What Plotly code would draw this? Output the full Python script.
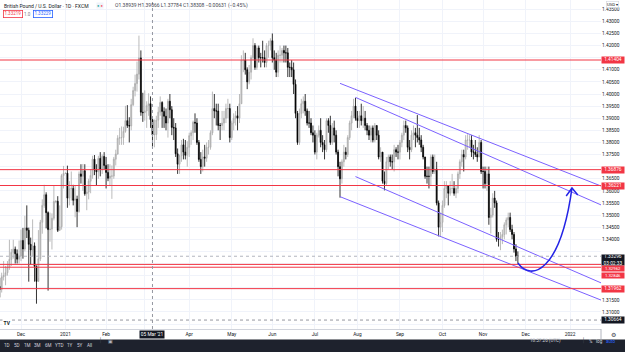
import pandas as pd
import plotly.graph_objects as go

# ---------------- data (GBP/USD daily, FXCM) ----------------
bar_dates = pd.bdate_range("2020-11-16", "2021-11-25")
axis_dates = pd.bdate_range("2020-11-16", "2022-02-28")

opens = [
    # Nov 2020
    1.3205, 1.3193, 1.3245, 1.3250, 1.3262, 1.3285, 1.3317, 1.3346, 1.3359, 1.3340, 1.3318,
    # Dec 2020
    1.3331, 1.3395, 1.3360, 1.3447, 1.3437, 1.3379, 1.3356, 1.3373, 1.3288, 1.3226, 1.3320, 1.3470,
    1.3540, 1.3584, 1.3510, 1.3440, 1.3442, 1.3487, 1.3556, 1.3557, 1.3437, 1.3452, 1.3663,
    # Jan 2021
    1.3672, 1.3673, 1.3570, 1.3608, 1.3610, 1.3561, 1.3566, 1.3515, 1.3670, 1.3660, 1.3683, 1.3588,
    1.3595, 1.3640, 1.3664, 1.3731, 1.3686, 1.3679, 1.3734, 1.3690, 1.3742,
    # Feb 2021
    1.3705, 1.3676, 1.3652, 1.3661, 1.3661, 1.3731, 1.3752, 1.3817, 1.3820, 1.3820, 1.3846, 1.3890,
    1.3870, 1.3868, 1.3956, 1.4014, 1.4043, 1.4082, 1.4149, 1.3925,
    # Mar 2021
    1.3923, 1.3930, 1.3952, 1.3960, 1.3894, 1.3831, 1.3833, 1.3892, 1.3925, 1.3965, 1.3928, 1.3908,
    1.3880, 1.3970, 1.3935, 1.3862, 1.3860, 1.3753, 1.3710, 1.3745, 1.3790, 1.3760, 1.3747,
    # Apr 2021
    1.3780, 1.3828, 1.3840, 1.3883, 1.3880, 1.3800, 1.3730, 1.3700, 1.3740, 1.3735, 1.3780, 1.3780,
    1.3840, 1.3940, 1.3930, 1.3930, 1.3870, 1.3870, 1.3880, 1.3900, 1.3940, 1.3940,
    # May 2021
    1.3820, 1.3880, 1.3900, 1.3910, 1.3900, 1.3960, 1.4140, 1.4140, 1.4100, 1.4050, 1.4090, 1.4150,
    1.4200, 1.4110, 1.4190, 1.4150, 1.4150, 1.4150, 1.4130, 1.4200, 1.4200,
    # Jun 2021
    1.4220, 1.4150, 1.4140, 1.4090, 1.4160, 1.4160, 1.4180, 1.4170, 1.4170, 1.4110, 1.4110, 1.4100,
    1.4040, 1.3920, 1.3800, 1.3920, 1.3960, 1.3970, 1.3930, 1.3880, 1.3880, 1.3840,
    # Jul 2021
    1.3830, 1.3760, 1.3830, 1.3850, 1.3800, 1.3790, 1.3770, 1.3890, 1.3870, 1.3800, 1.3860, 1.3830,
    1.3760, 1.3700, 1.3650, 1.3720, 1.3760, 1.3750, 1.3820, 1.3880, 1.3910, 1.3950,
    # Aug 2021
    1.3900, 1.3890, 1.3910, 1.3890, 1.3900, 1.3870, 1.3850, 1.3830, 1.3860, 1.3810, 1.3870, 1.3830,
    1.3740, 1.3760, 1.3640, 1.3630, 1.3720, 1.3740, 1.3720, 1.3720, 1.3770, 1.3760,
    # Sep 2021
    1.3760, 1.3800, 1.3830, 1.3870, 1.3860, 1.3780, 1.3770, 1.3830, 1.3840, 1.3830, 1.3820, 1.3810,
    1.3780, 1.3740, 1.3660, 1.3660, 1.3660, 1.3740, 1.3680, 1.3690, 1.3550, 1.3450,
    # Oct 2021
    1.3470, 1.3540, 1.3610, 1.3620, 1.3590, 1.3610, 1.3610, 1.3590, 1.3610, 1.3670, 1.3720, 1.3750,
    1.3740, 1.3810, 1.3810, 1.3810, 1.3760, 1.3760, 1.3750, 1.3740, 1.3800,
    # Nov 2021
    1.3680, 1.3680, 1.3630, 1.3670, 1.3490, 1.3500, 1.3570, 1.3550, 1.3400, 1.3400, 1.3410, 1.3420,
    1.3460, 1.3480, 1.3490, 1.3440, 1.3420, 1.3360, 1.3330,
]

highs = [
    1.3240, 1.3262, 1.3310, 1.3290, 1.3310, 1.3398, 1.3360, 1.3398, 1.3370, 1.3358, 1.3395,
    1.3440, 1.3447, 1.3497, 1.3540, 1.3448, 1.3407, 1.3482, 1.3387, 1.3292, 1.3438, 1.3480, 1.3565,
    1.3625, 1.3594, 1.3515, 1.3510, 1.3507, 1.3620, 1.3561, 1.3578, 1.3540, 1.3670, 1.3703,
    1.3675, 1.3704, 1.3640, 1.3680, 1.3625, 1.3620, 1.3580, 1.3680, 1.3710, 1.3711, 1.3710, 1.3620,
    1.3650, 1.3690, 1.3745, 1.3748, 1.3710, 1.3745, 1.3760, 1.3750, 1.3760,
    1.3740, 1.3710, 1.3710, 1.3705, 1.3740, 1.3770, 1.3830, 1.3860, 1.3866, 1.3865, 1.3951, 1.3954,
    1.3904, 1.3980, 1.4030, 1.4080, 1.4134, 1.4241, 1.4180, 1.4005,
    1.4015, 1.3970, 1.4003, 1.3990, 1.3907, 1.3895, 1.3910, 1.3947, 1.3990, 1.3970, 1.3945, 1.3940,
    1.3980, 1.4000, 1.3950, 1.3900, 1.3880, 1.3775, 1.3750, 1.3810, 1.3815, 1.3810, 1.3805,
    1.3840, 1.3850, 1.3890, 1.3920, 1.3900, 1.3810, 1.3760, 1.3770, 1.3790, 1.3800, 1.3810, 1.3850,
    1.4010, 1.4000, 1.3960, 1.3960, 1.3880, 1.3930, 1.3930, 1.3960, 1.3980, 1.3960,
    1.3890, 1.3920, 1.3930, 1.3950, 1.4000, 1.4160, 1.4180, 1.4170, 1.4110, 1.4120, 1.4160, 1.4230,
    1.4210, 1.4200, 1.4200, 1.4170, 1.4220, 1.4180, 1.4210, 1.4220, 1.4230,
    1.4250, 1.4180, 1.4170, 1.4180, 1.4200, 1.4190, 1.4200, 1.4200, 1.4190, 1.4130, 1.4140, 1.4130,
    1.4060, 1.3930, 1.3940, 1.3980, 1.3990, 1.4000, 1.3940, 1.3930, 1.3900, 1.3870,
    1.3850, 1.3840, 1.3870, 1.3900, 1.3830, 1.3810, 1.3900, 1.3900, 1.3910, 1.3880, 1.3890, 1.3850,
    1.3770, 1.3720, 1.3730, 1.3790, 1.3780, 1.3830, 1.3890, 1.3930, 1.3980, 1.3984,
    1.3930, 1.3930, 1.3960, 1.3950, 1.3930, 1.3880, 1.3870, 1.3870, 1.3870, 1.3880, 1.3870, 1.3850,
    1.3780, 1.3750, 1.3680, 1.3740, 1.3750, 1.3750, 1.3750, 1.3790, 1.3780, 1.3790,
    1.3810, 1.3840, 1.3890, 1.3890, 1.3870, 1.3810, 1.3850, 1.3870, 1.3860, 1.3913, 1.3860, 1.3830,
    1.3790, 1.3740, 1.3700, 1.3700, 1.3750, 1.3750, 1.3750, 1.3720, 1.3560, 1.3510,
    1.3560, 1.3640, 1.3640, 1.3620, 1.3640, 1.3670, 1.3640, 1.3620, 1.3680, 1.3730, 1.3770, 1.3770,
    1.3830, 1.3834, 1.3830, 1.3830, 1.3790, 1.3810, 1.3780, 1.3830, 1.3810,
    1.3700, 1.3700, 1.3700, 1.3700, 1.3530, 1.3590, 1.3600, 1.3560, 1.3430, 1.3430, 1.3440, 1.3470,
    1.3490, 1.3510, 1.3510, 1.3460, 1.3430, 1.3380, 1.3350,
]

lows = [
    1.3160, 1.3180, 1.3230, 1.3210, 1.3250, 1.3274, 1.3290, 1.3320, 1.3300, 1.3300, 1.3300,
    1.3310, 1.3320, 1.3350, 1.3405, 1.3225, 1.3295, 1.3330, 1.3225, 1.3134, 1.3240, 1.3310, 1.3423,
    1.3530, 1.3445, 1.3188, 1.3390, 1.3358, 1.3478, 1.3549, 1.3430, 1.3435, 1.3440, 1.3610,
    1.3670, 1.3530, 1.3540, 1.3560, 1.3540, 1.3491, 1.3450, 1.3510, 1.3630, 1.3600, 1.3580, 1.3520,
    1.3565, 1.3590, 1.3650, 1.3665, 1.3620, 1.3650, 1.3660, 1.3670, 1.3690,
    1.3610, 1.3640, 1.3620, 1.3567, 1.3650, 1.3705, 1.3750, 1.3790, 1.3790, 1.3790, 1.3840, 1.3860,
    1.3800, 1.3850, 1.3950, 1.3990, 1.4010, 1.4060, 1.3910, 1.3885,
    1.3890, 1.3860, 1.3910, 1.3860, 1.3778, 1.3780, 1.3810, 1.3860, 1.3910, 1.3860, 1.3860, 1.3850,
    1.3820, 1.3900, 1.3830, 1.3810, 1.3740, 1.3670, 1.3670, 1.3720, 1.3730, 1.3730, 1.3700,
    1.3740, 1.3790, 1.3810, 1.3840, 1.3790, 1.3720, 1.3670, 1.3680, 1.3700, 1.3720, 1.3750, 1.3770,
    1.3830, 1.3900, 1.3870, 1.3850, 1.3810, 1.3850, 1.3850, 1.3880, 1.3900, 1.3800,
    1.3810, 1.3850, 1.3870, 1.3850, 1.3880, 1.3960, 1.4090, 1.4080, 1.4020, 1.4040, 1.4060, 1.4140,
    1.4100, 1.4100, 1.4130, 1.4110, 1.4130, 1.4110, 1.4110, 1.4150, 1.4180,
    1.4130, 1.4100, 1.4070, 1.4070, 1.4130, 1.4130, 1.4130, 1.4130, 1.4070, 1.4070, 1.4070, 1.4000,
    1.3900, 1.3790, 1.3790, 1.3900, 1.3920, 1.3910, 1.3870, 1.3860, 1.3830, 1.3800,
    1.3750, 1.3730, 1.3820, 1.3780, 1.3760, 1.3730, 1.3760, 1.3840, 1.3790, 1.3790, 1.3800, 1.3750,
    1.3660, 1.3572, 1.3630, 1.3700, 1.3730, 1.3740, 1.3810, 1.3850, 1.3900, 1.3890,
    1.3860, 1.3860, 1.3870, 1.3860, 1.3850, 1.3830, 1.3810, 1.3800, 1.3800, 1.3800, 1.3810, 1.3730,
    1.3720, 1.3630, 1.3602, 1.3620, 1.3690, 1.3700, 1.3690, 1.3680, 1.3740, 1.3730,
    1.3730, 1.3780, 1.3810, 1.3840, 1.3760, 1.3730, 1.3760, 1.3810, 1.3780, 1.3800, 1.3790, 1.3760,
    1.3730, 1.3650, 1.3630, 1.3610, 1.3620, 1.3670, 1.3670, 1.3540, 1.3412, 1.3410,
    1.3430, 1.3530, 1.3570, 1.3540, 1.3580, 1.3590, 1.3580, 1.3570, 1.3590, 1.3650, 1.3700, 1.3680,
    1.3730, 1.3770, 1.3780, 1.3740, 1.3730, 1.3740, 1.3720, 1.3740, 1.3670,
    1.3610, 1.3610, 1.3600, 1.3460, 1.3424, 1.3490, 1.3530, 1.3390, 1.3370, 1.3355, 1.3380, 1.3400,
    1.3420, 1.3450, 1.3430, 1.3400, 1.3345, 1.3310, 1.3300,
]

closes = [
    1.3193, 1.3245, 1.3250, 1.3262, 1.3285, 1.3317, 1.3346, 1.3359, 1.3340, 1.3318, 1.3331,
    1.3395, 1.3360, 1.3447, 1.3437, 1.3379, 1.3356, 1.3373, 1.3288, 1.3226, 1.3320, 1.3470, 1.3540,
    1.3584, 1.3510, 1.3440, 1.3442, 1.3487, 1.3556, 1.3557, 1.3437, 1.3452, 1.3663, 1.3672,
    1.3673, 1.3570, 1.3608, 1.3610, 1.3561, 1.3566, 1.3515, 1.3670, 1.3660, 1.3683, 1.3588, 1.3595,
    1.3640, 1.3664, 1.3731, 1.3686, 1.3679, 1.3734, 1.3690, 1.3742, 1.3705,
    1.3676, 1.3652, 1.3661, 1.3661, 1.3731, 1.3752, 1.3817, 1.3820, 1.3820, 1.3846, 1.3890, 1.3870,
    1.3868, 1.3956, 1.4014, 1.4043, 1.4082, 1.4149, 1.3925, 1.3923,
    1.3930, 1.3952, 1.3960, 1.3894, 1.3831, 1.3833, 1.3892, 1.3925, 1.3965, 1.3928, 1.3908, 1.3880,
    1.3970, 1.3935, 1.3862, 1.3860, 1.3753, 1.3710, 1.3745, 1.3790, 1.3760, 1.3747, 1.3780,
    1.3828, 1.3840, 1.3883, 1.3880, 1.3800, 1.3730, 1.3700, 1.3740, 1.3735, 1.3780, 1.3780, 1.3840,
    1.3940, 1.3930, 1.3930, 1.3870, 1.3870, 1.3880, 1.3900, 1.3940, 1.3940, 1.3820,
    1.3880, 1.3900, 1.3910, 1.3900, 1.3960, 1.4140, 1.4140, 1.4100, 1.4050, 1.4090, 1.4150, 1.4200,
    1.4110, 1.4190, 1.4150, 1.4150, 1.4150, 1.4130, 1.4200, 1.4200, 1.4220,
    1.4150, 1.4140, 1.4090, 1.4160, 1.4160, 1.4180, 1.4170, 1.4170, 1.4110, 1.4110, 1.4100, 1.4040,
    1.3920, 1.3800, 1.3920, 1.3960, 1.3970, 1.3930, 1.3880, 1.3880, 1.3840, 1.3830,
    1.3760, 1.3830, 1.3850, 1.3800, 1.3790, 1.3770, 1.3890, 1.3870, 1.3800, 1.3860, 1.3830, 1.3760,
    1.3700, 1.3650, 1.3720, 1.3760, 1.3750, 1.3820, 1.3880, 1.3910, 1.3950, 1.3900,
    1.3890, 1.3910, 1.3890, 1.3900, 1.3870, 1.3850, 1.3830, 1.3860, 1.3810, 1.3870, 1.3830, 1.3740,
    1.3760, 1.3640, 1.3630, 1.3720, 1.3740, 1.3720, 1.3720, 1.3770, 1.3760, 1.3760,
    1.3800, 1.3830, 1.3870, 1.3860, 1.3780, 1.3770, 1.3830, 1.3840, 1.3830, 1.3820, 1.3810, 1.3780,
    1.3740, 1.3660, 1.3660, 1.3660, 1.3740, 1.3680, 1.3690, 1.3550, 1.3450, 1.3470,
    1.3540, 1.3610, 1.3620, 1.3590, 1.3610, 1.3610, 1.3590, 1.3610, 1.3670, 1.3720, 1.3750, 1.3740,
    1.3810, 1.3810, 1.3810, 1.3760, 1.3760, 1.3750, 1.3740, 1.3800, 1.3680,
    1.3680, 1.3630, 1.3670, 1.3490, 1.3500, 1.3570, 1.3550, 1.3400, 1.3400, 1.3410, 1.3420, 1.3460,
    1.3480, 1.3490, 1.3440, 1.3420, 1.3360, 1.3330, 1.3330,
]

assert len(bar_dates) == len(opens) == len(highs) == len(lows) == len(closes)

# horizontal support / resistance levels (red)
level_prices = [1.41404, 1.36876, 1.36221, 1.32962, 1.32846, 1.31962]
last_price_label = "1.33296"
countdown = "03:02:33"
crosshair_date = "2021-03-05"
crosshair_price = 1.30664

# descending channel trend lines: (date, price) anchors
channel_lines = [
    [("2021-07-20", 1.4044), ("2022-01-25", 1.3620)],
    [("2021-07-20", 1.3576), ("2022-01-25", 1.3149)],
    [("2021-07-30", 1.3986), ("2022-01-25", 1.3542)],
    [("2021-07-30", 1.3659), ("2022-01-25", 1.3220)],
]
# projected path (curved arrow): start, ctrl1, ctrl2, end ; arrow-head arms
arrow_curve = [("2021-11-25", 1.3302), ("2021-12-06", 1.3224), ("2021-12-27", 1.3265), ("2022-01-04", 1.3612)]
arrow_head = [("2021-12-30", 1.3579), ("2022-01-04", 1.3612), ("2022-01-07", 1.3583)]

month_ticks = ["2020-12-01", "2021-01-01", "2021-02-01", "2021-03-01", "2021-04-01", "2021-05-03",
               "2021-06-01", "2021-07-01", "2021-08-02", "2021-09-01", "2021-10-01", "2021-11-01",
               "2021-12-01", "2022-01-03"]
# "Mar" is hidden behind the crosshair date label
month_labels = ["Dec", "2021", "Feb", "", "Apr", "May", "Jun", "Jul", "Aug", "Sep", "Oct", "Nov",
                "Dec", "2022"]

price_ticks = [1.305, 1.310, 1.315, 1.320, 1.325, 1.330, 1.335, 1.340, 1.345, 1.350, 1.355, 1.360,
               1.365, 1.370, 1.375, 1.380, 1.385, 1.390, 1.395, 1.400, 1.405, 1.410, 1.415, 1.420,
               1.425, 1.430, 1.435]
# tick labels hidden behind the price-scale labels
hidden_price_ticks = [1.305, 1.320, 1.325, 1.330, 1.335, 1.370, 1.415]

# ---------------- helpers ----------------
pos = {d.strftime("%Y-%m-%d"): i for i, d in enumerate(axis_dates)}
X_RANGE = [0.13, 311.0]
Y_RANGE = [1.30295, 1.43882]
W, H = 625, 352
PW, PH = 601, 329


def px(x):
    return x / PW


def py(y):
    return (PH - y) / PH


FONT = "Roboto"
TXT = "#131722"
RED = "#f23645"
PURPLE = "#7b61ff"
ARROW = "#2424e6"

fig = go.Figure()

fig.add_trace(go.Candlestick(
    x=[pos[d.strftime("%Y-%m-%d")] for d in bar_dates],
    open=opens, high=highs, low=lows, close=closes,
    increasing=dict(line=dict(color="#a9a9a9", width=0.8), fillcolor="#c9c9c9"),
    decreasing=dict(line=dict(color="#000000", width=0.8), fillcolor="#000000"),
    whiskerwidth=0, showlegend=False, hoverinfo="skip",
))

for line in channel_lines:
    fig.add_trace(go.Scatter(
        x=[pos[d] for d, _ in line], y=[p for _, p in line], mode="lines",
        line=dict(color=PURPLE, width=1), showlegend=False, hoverinfo="skip",
    ))

shapes = []
for lv in level_prices:
    shapes.append(dict(type="line", xref="paper", x0=0, x1=1, yref="y", y0=lv, y1=lv,
                       line=dict(color=RED, width=1)))
# last price line
shapes.append(dict(type="line", xref="paper", x0=0, x1=1, yref="y", y0=closes[-1], y1=closes[-1],
                   line=dict(color="#b2b5be", width=1, dash="dot")))
# crosshair
shapes.append(dict(type="line", xref="x", x0=pos[crosshair_date], x1=pos[crosshair_date], yref="paper",
                   y0=0, y1=1, line=dict(color="#9598a1", width=1, dash="dot")))
shapes.append(dict(type="line", xref="paper", x0=0, x1=1, yref="y", y0=crosshair_price, y1=crosshair_price,
                   line=dict(color="#9598a1", width=1, dash="dot")))
# curved arrow
c = [(pos[d], p) for d, p in arrow_curve]
shapes.append(dict(type="path", xref="x", yref="y",
                   path=f"M {c[0][0]},{c[0][1]} C {c[1][0]},{c[1][1]} {c[2][0]},{c[2][1]} {c[3][0]},{c[3][1]}",
                   line=dict(color=ARROW, width=1.5)))
h = [(pos[d], p) for d, p in arrow_head]
shapes.append(dict(type="path", xref="x", yref="y",
                   path=f"M {h[0][0]},{h[0][1]} L {h[1][0]},{h[1][1]} L {h[2][0]},{h[2][1]}",
                   line=dict(color=ARROW, width=1.5)))
# bottom toolbar
shapes.append(dict(type="rect", xref="paper", yref="paper", x0=-0.01, x1=W / PW + 0.01,
                   y0=py(H + 2), y1=py(339.5), fillcolor="#1e222d", line=dict(width=0), layer="above"))
# right-axis separator extending into time scale
shapes.append(dict(type="line", xref="paper", yref="paper", x0=1, x1=1, y0=py(339.5), y1=0,
                   line=dict(color="#b2b5be", width=1)))

fig.update_layout(shapes=shapes)

ann = []
# header
ann.append(dict(text="British Pound / U.S. Dollar · 1D · FXCM", x=px(2), y=py(5.5), xref="paper", yref="paper",
                xanchor="left", yanchor="middle", showarrow=False, font=dict(family=FONT, size=5, color=TXT)))
ann.append(dict(text="<span style='color:#26a69a'>●</span> <span style='color:#f7525f'>●</span>",
                x=px(96), y=py(5.5), xref="paper", yref="paper", xanchor="left", yanchor="middle",
                showarrow=False, font=dict(family=FONT, size=4, color=TXT), bgcolor="#f0f3fa", borderpad=0))
ohlc = "O1.38939 H1.39066 L1.37784 C1.38308 −0.00631 (−0.45%)"
ann.append(dict(text=ohlc, x=px(113), y=py(5.5), xref="paper", yref="paper", xanchor="left", yanchor="middle",
                showarrow=False, font=dict(family=FONT, size=5, color="#434651")))
ann.append(dict(text="1.33219", x=px(12.5), y=py(14.5), xref="paper", yref="paper", xanchor="center",
                yanchor="middle", showarrow=False, font=dict(family=FONT, size=4.5, color=RED),
                bordercolor=RED, borderwidth=0.8, borderpad=0.6, bgcolor="white"))
ann.append(dict(text="1.0", x=px(27), y=py(14.5), xref="paper", yref="paper", xanchor="center", yanchor="middle",
                showarrow=False, font=dict(family=FONT, size=4.5, color="#787b86")))
ann.append(dict(text="1.33229", x=px(42.5), y=py(14.5), xref="paper", yref="paper", xanchor="center",
                yanchor="middle", showarrow=False, font=dict(family=FONT, size=4.5, color="#2962ff"),
                bordercolor="#2962ff", borderwidth=0.8, borderpad=0.6, bgcolor="white"))
# currency tag
ann.append(dict(text="USD ▾", x=px(612), y=py(5), xref="paper", yref="paper", xanchor="center", yanchor="middle",
                showarrow=False, font=dict(family=FONT, size=4.3, color=TXT), bordercolor="#d1d4dc",
                borderwidth=0.6, borderpad=0.4, bgcolor="white"))


def axis_label(text, ypix, bg, color="white", height=5.5, size=4.8):
    return dict(text=text, x=px(612.5), y=py(ypix), xref="paper", yref="paper", xanchor="center",
                yanchor="middle", showarrow=False, font=dict(family=FONT, size=size, color=color),
                bgcolor=bg, borderpad=0, width=22, height=height)


def price_to_pix(p):
    return (Y_RANGE[1] - p) / (Y_RANGE[1] - Y_RANGE[0]) * PH


for lv in level_prices[:3]:
    ann.append(axis_label(f"{lv:.5f}", price_to_pix(lv), RED))
ann.append(axis_label(f"{last_price_label}<br>{countdown}", price_to_pix(closes[-1]) + 3.6, "#131722", height=10))
ann.append(axis_label(f"{level_prices[3]:.5f}", 268.0, RED, height=4.8, size=4.3))
ann.append(axis_label(f"{level_prices[4]:.5f}", 275.2, RED, height=4.8, size=4.3))
ann.append(axis_label(f"{level_prices[5]:.5f}", price_to_pix(level_prices[5]), RED))
ann.append(axis_label(f"{crosshair_price:.5f}", price_to_pix(crosshair_price), "#131722"))
# crosshair date label
ann.append(dict(text="05 Mar '21", x=pos[crosshair_date], y=py(334.5), xref="x", yref="paper", xanchor="center",
                yanchor="middle", showarrow=False, font=dict(family=FONT, size=4.8, color="white"),
                bgcolor="#131722", borderpad=0.8))
ann.append(dict(text="⚙", x=px(613), y=py(334.3), xref="paper", yref="paper", xanchor="center", yanchor="middle",
                showarrow=False, font=dict(family="DejaVu Sans", size=6, color="#434651")))
# TV logo
ann.append(dict(text="<b>TV</b>", x=px(7), y=py(322), xref="paper", yref="paper", xanchor="center",
                yanchor="middle", showarrow=False, font=dict(family=FONT, size=5, color=TXT),
                bgcolor="white", borderpad=0.5))
# toolbar texts
periods = ["1D", "5D", "1M", "3M", "6M", "YTD", "1Y", "5Y", "All"]
period_x = [7, 17, 27, 37, 48, 59, 70, 80, 89]
for t, xx in zip(periods, period_x):
    ann.append(dict(text=t, x=px(xx), y=py(345.5), xref="paper", yref="paper", xanchor="center",
                    yanchor="middle", showarrow=False, font=dict(family=FONT, size=4.6, color="#d1d4dc")))
ann.append(dict(text="│", x=px(97), y=py(345.5), xref="paper", yref="paper", showarrow=False,
                font=dict(family="DejaVu Sans", size=5, color="#434651")))
ann.append(dict(text="▣", x=px(106), y=py(345.5), xref="paper", yref="paper", showarrow=False,
                font=dict(family="DejaVu Sans", size=5, color="#b2b5be")))
ann.append(dict(text="18:57:26 (UTC)", x=px(563), y=py(345.5), xref="paper", yref="paper", showarrow=False,
                font=dict(family=FONT, size=4.6, color="#d1d4dc")))
ann.append(dict(text="│", x=px(587), y=py(345.5), xref="paper", yref="paper", showarrow=False,
                font=dict(family="DejaVu Sans", size=5, color="#434651")))
ann.append(dict(text="%", x=px(595), y=py(345.5), xref="paper", yref="paper", showarrow=False,
                font=dict(family=FONT, size=4.6, color="#d1d4dc")))
ann.append(dict(text="log", x=px(605), y=py(345.5), xref="paper", yref="paper", showarrow=False,
                font=dict(family=FONT, size=4.6, color="#d1d4dc")))
ann.append(dict(text="auto", x=px(617), y=py(345.5), xref="paper", yref="paper", showarrow=False,
                font=dict(family=FONT, size=4.6, color="#2962ff")))

fig.update_layout(annotations=ann)

fig.update_layout(
    width=W, height=H, margin=dict(l=0, r=W - PW, t=0, b=H - PH),
    paper_bgcolor="white", plot_bgcolor="white", showlegend=False,
    xaxis=dict(range=X_RANGE, rangeslider=dict(visible=False), tickmode="array",
               tickvals=[pos[d] for d in month_ticks], ticktext=month_labels,
               showgrid=True, gridcolor="#f0f3fa", gridwidth=1, zeroline=False, showline=True,
               linecolor="#d1d4dc", linewidth=1, ticks="",
               tickfont=dict(family=FONT, size=4.8, color=TXT)),
    yaxis=dict(range=Y_RANGE, side="right", tickmode="array", tickvals=price_ticks,
               ticktext=["" if t in hidden_price_ticks else f"{t:.5f}" for t in price_ticks],
               showgrid=True, gridcolor="#f0f3fa", gridwidth=1, zeroline=False, showline=False,
               ticks="", tickfont=dict(family=FONT, size=4.8, color=TXT)),
)

fig.write_html("out.html")
